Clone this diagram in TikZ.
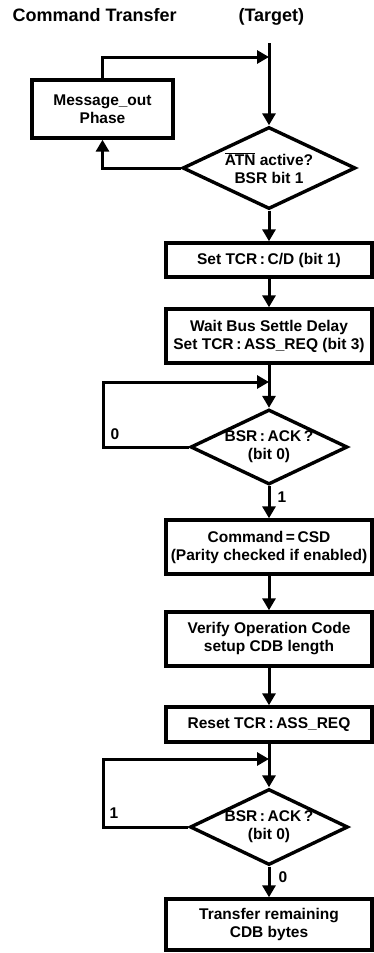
\documentclass[tikz,border=0pt]{standalone}
\usepackage{fontspec}
\setmainfont{Liberation Sans}
\usetikzlibrary{shapes.geometric,arrows.meta}

\begin{document}
\begin{tikzpicture}[x=1pt, y=-1pt,
  every node/.style={font=\bfseries\fontsize{15.5}{18}\selectfont},
  box/.style={draw, line width=3.4pt, minimum width=206pt, inner sep=0pt, align=center},
  dia/.style={draw, diamond, shape aspect=2.1, line width=3.4pt, inner sep=0pt, align=center},
  flow/.style={line width=3pt, -{Triangle[length=12pt,width=13pt]}},
  head/.style={anchor=base west, font=\bfseries\fontsize{18}{20}\selectfont}]

\useasboundingbox (0,0) rectangle (373,953);

% titles
\node[head] (title) at (9,21) {Command Transfer};
\node[head] (target) at (235,21) {(Target)};

% steps
\node[box, minimum width=141pt, minimum height=58pt] (msg) at (102.5,109) {Message\_out\\Phase};
\node[dia, minimum width=173pt, minimum height=82pt] (atn) at (269,168) {$\overline{\mbox{ATN}}$ active?\\BSR bit 1};
\node[box, minimum height=34pt] (setcd) at (269,260) {Set TCR\,:\,C/D (bit 1)};
\node[box, minimum height=54pt] (wait) at (269,336) {Wait Bus Settle Delay\\Set TCR\,:\,ASS\_REQ (bit 3)};
\node[dia, minimum width=157pt, minimum height=75pt] (ack1) at (269,447) {BSR\,:\,ACK\,?\\(bit 0)};
\node[box, minimum height=54pt] (cmd) at (269,547) {Command\,=\,CSD\\(Parity checked if enabled)};
\node[box, minimum height=54pt] (verify) at (269,639) {Verify Operation Code\\setup CDB length};
\node[box, minimum height=35pt] (reset) at (269,724.5) {Reset TCR\,:\,ASS\_REQ};
\node[dia, minimum width=158pt, minimum height=76pt] (ack2) at (269,827) {BSR\,:\,ACK\,?\\(bit 0)};
\node[box, minimum height=51pt] (xfer) at (269,924.5) {Transfer remaining\\CDB bytes};

% joins on the main line
\coordinate (top) at (269,43);
\coordinate (join1) at (269,57);
\coordinate (join2) at (269,382);
\coordinate (join3) at (269,759);
\coordinate (lx) at (103,0);

% connectors
\draw[flow] (top) -- (atn.north);
\draw[flow] (msg.north) |- (join1);
\draw[flow] (atn.west) -| (msg.south);
\draw[flow] (atn.south) -- (setcd.north);
\draw[flow] (setcd.south) -- (wait.north);
\draw[flow] (wait.south) -- (ack1.north);
\draw[flow] (ack1.west) -- (ack1.west -| lx) |- (join2);
\draw[flow] (ack1.south) -- (cmd.north);
\draw[flow] (cmd.south) -- (verify.north);
\draw[flow] (verify.south) -- (reset.north);
\draw[flow] (reset.south) -- (ack2.north);
\draw[flow] (ack2.west) -- (ack2.west -| lx) |- (join3);
\draw[flow] (ack2.south) -- (xfer.north);

% branch labels
\node (no1) at (115,434) {0};
\node (yes1) at (282,497) {1};
\node (yes2) at (114,813) {1};
\node (no2) at (283,877) {0};

\end{tikzpicture}
\end{document}
